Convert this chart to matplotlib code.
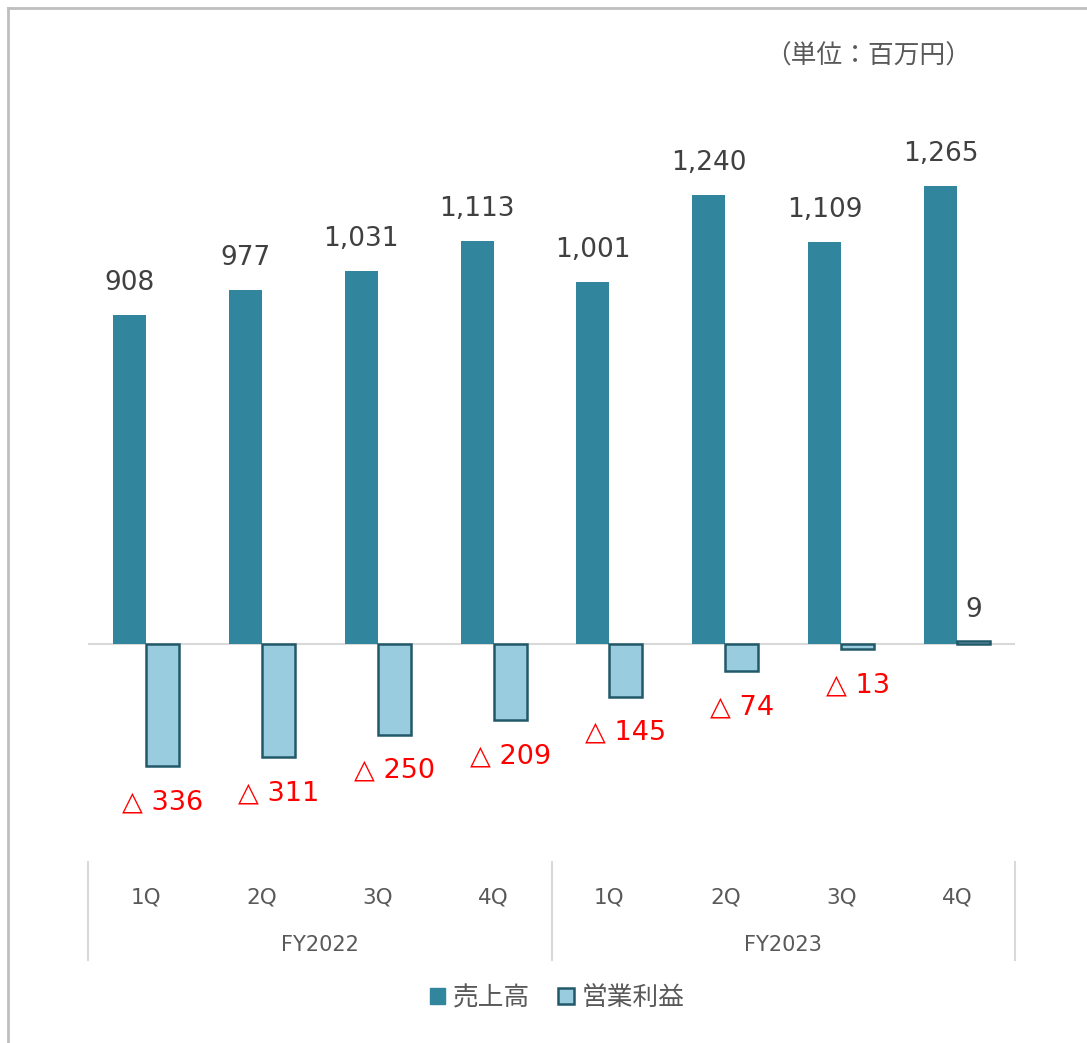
import matplotlib
matplotlib.use("Agg")
import matplotlib.pyplot as plt
from matplotlib.lines import Line2D
from matplotlib.patches import Patch

plt.rcParams["font.family"] = ["DejaVu Sans", "Noto Sans CJK JP"]

quarters = ["1Q", "2Q", "3Q", "4Q", "1Q", "2Q", "3Q", "4Q"]
years = ["FY2022", "FY2023"]
sales = [908, 977, 1031, 1113, 1001, 1240, 1109, 1265]
op_profit = [-336, -311, -250, -209, -145, -74, -13, 9]

SALES_COLOR = "#31859C"
PROFIT_COLOR = "#9ACCE0"
PROFIT_EDGE = "#215968"
TEXT_GRAY = "#595959"
LABEL_GRAY = "#404040"

W, H = 1087, 1043
fig = plt.figure(figsize=(W / 100, H / 100), dpi=100)
ax_top, ax_bot = 100, 850
ax = fig.add_axes([88 / W, (H - ax_bot) / H, (1015 - 88) / W, (ax_bot - ax_top) / H])

n = len(quarters)
x = list(range(n))
w = 0.285
ax.bar([i - w / 2 for i in x], sales, width=w, color=SALES_COLOR, zorder=2)
ax.bar([i + w / 2 for i in x], op_profit, width=w, color=PROFIT_COLOR,
       edgecolor=PROFIT_EDGE, linewidth=1.8, zorder=2)

ax.set_xlim(-0.5, n - 0.5)
ax.set_ylim(-568, 1502)
ax.axhline(0, color="#D9D9D9", linewidth=1.5, zorder=1)

for i, v in enumerate(sales):
    ax.annotate(f"{v:,}", (i - w / 2, v), xytext=(0, 23), textcoords="offset points",
                ha="center", va="center", fontsize=19, color=LABEL_GRAY)
for i, v in enumerate(op_profit):
    if v < 0:
        ax.annotate(f"△ {abs(v)}", (i + w / 2, v), xytext=(0, -26), textcoords="offset points",
                    ha="center", va="center", fontsize=19.5, color="#FF0000")
    else:
        ax.annotate(f"{v:,}", (i + w / 2, v), xytext=(0, 22), textcoords="offset points",
                    ha="center", va="center", fontsize=19, color=LABEL_GRAY)

ax.set_xticks([])
ax.set_yticks([])
for s in ax.spines.values():
    s.set_visible(False)

# two-level category axis
tr = ax.get_xaxis_transform()
span = ax_bot - ax_top
for i, q in enumerate(quarters):
    ax.text(i, -(897 - ax_bot) / span, q, transform=tr, ha="center", va="center",
            fontsize=15.5, color=TEXT_GRAY)
for k, yr in enumerate(years):
    ax.text(k * 4 + 1.5, -(945 - ax_bot) / span, yr, transform=tr, ha="center", va="center",
            fontsize=15, color=TEXT_GRAY)
for xs in (-0.5, 3.5, 7.5):
    ax.add_line(Line2D([xs, xs], [-(862 - ax_bot) / span, -(960 - ax_bot) / span],
                       transform=tr, color="#D9D9D9", linewidth=1.5, clip_on=False))

# unit note
fig.text(868 / W, 1 - 57 / H, "（単位：百万円）", ha="center", va="center",
         fontsize=18.5, color=TEXT_GRAY, family=["Noto Sans CJK JP", "DejaVu Sans"])

handles = [Patch(facecolor=SALES_COLOR, edgecolor=SALES_COLOR, label="売上高"),
           Patch(facecolor=PROFIT_COLOR, edgecolor=PROFIT_EDGE, linewidth=1.8, label="営業利益")]
fig.legend(handles=handles, loc="center", bbox_to_anchor=(557 / W, 1 - 998 / H), ncol=2,
           frameon=False, fontsize=18.5, labelcolor=TEXT_GRAY, handlelength=0.6,
           handleheight=0.6, handletextpad=0.3, columnspacing=1.1)

# chart area border (left and top edges visible)
fig.add_artist(Line2D([8 / W, 8 / W], [0, 1 - 8 / H], color="#BFBFBF", linewidth=2))
fig.add_artist(Line2D([8 / W, 1], [1 - 8 / H, 1 - 8 / H], color="#BFBFBF", linewidth=2))

fig.savefig("out.png", dpi=100, facecolor="white")
